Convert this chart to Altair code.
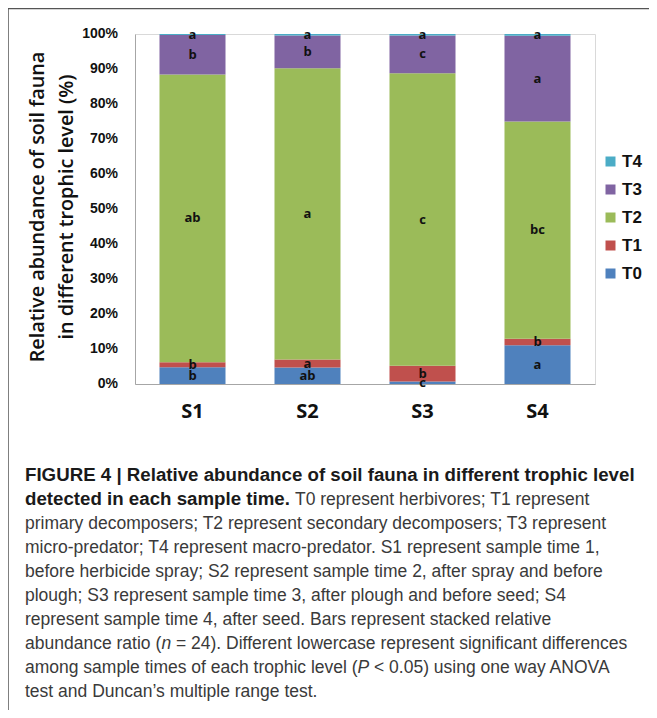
import altair as alt
import pandas as pd

# ---------------- data ----------------
samples = ["S1", "S2", "S3", "S4"]
levels = ["T0", "T1", "T2", "T3", "T4"]
t0 = [4.8, 4.7, 0.7, 11.1]
t1 = [1.4, 2.3, 4.5, 1.8]
t2 = [82.2, 83.2, 83.6, 62.1]
t3 = [11.3, 9.4, 10.8, 24.5]
t4 = [0.3, 0.4, 0.4, 0.5]
lab_t0 = ["b", "ab", "c", "a"]
lab_t1 = ["b", "a", "b", "b"]
lab_t2 = ["ab", "a", "c", "bc"]
lab_t3 = ["b", "b", "c", "a"]
lab_t4 = ["a", "a", "a", "a"]
colors = ["#4F81BD", "#C0504D", "#9BBB59", "#8064A2", "#4BACC6"]
y_ticks = list(range(0, 101, 10))
y_tick_labels = ["0%", "10%", "20%", "30%", "40%", "50%", "60%", "70%", "80%", "90%", "100%"]
y_title = ["Relative abundance of soil fauna", "in different trophic level (%)"]

cap_bold_1 = "FIGURE 4 | Relative abundance of soil fauna in different trophic level"
cap_bold_2 = "detected in each sample time."
cap_2_rest = "T0 represent herbivores; T1 represent"
cap_lines = [
    "primary decomposers; T2 represent secondary decomposers; T3 represent",
    "micro-predator; T4 represent macro-predator. S1 represent sample time 1,",
    "before herbicide spray; S2 represent sample time 2, after spray and before",
    "plough; S3 represent sample time 3, after plough and before seed; S4",
    "represent sample time 4, after seed. Bars represent stacked relative",
]
cap_8 = ["abundance ratio (", "n", "= 24). Different lowercase represent significant differences"]
cap_9 = ["among sample times of each trophic level (", "P", "< 0.05) using one way ANOVA"]
cap_10 = "test and Duncan\u2019s multiple range test."

rows = []
for i, (lvl, vals, labs) in enumerate(zip(levels, [t0, t1, t2, t3, t4],
                                          [lab_t0, lab_t1, lab_t2, lab_t3, lab_t4])):
    for s, v, lab in zip(samples, vals, labs):
        rows.append({"S": s, "T": lvl, "ord": i, "value": v, "lab": lab})
df = pd.DataFrame(rows)
ticks_df = pd.DataFrame({"v": y_ticks, "lab": y_tick_labels})

# ---------------- layout ----------------
W, H = 460, 350
OX, OY = 135, 34          # plot origin on the page
PAD = {"left": OX - 8, "top": OY - 8, "right": 54, "bottom": 326}

x_scale = alt.Scale(paddingInner=0.426, paddingOuter=0.213)
y_scale = alt.Scale(domain=[0, 100], nice=False)
x_axis = alt.Axis(title=None, labelAngle=0, ticks=False, domainColor="#a6a6a6",
                  labelFont="Open Sans", labelFontWeight="bold", labelFontSize=20,
                  labelColor="#111", labelPadding=17)
y_axis = alt.Axis(title=None, labels=False, grid=False, ticks=False, domainColor="#a6a6a6")

base = alt.Chart(df).transform_stack(
    stack="value", groupby=["S"], as_=["y0", "y1"],
    sort=[alt.SortField("ord", order="ascending")]
).transform_calculate(mid="(datum.y0 + datum.y1) / 2")

bars = base.mark_bar().encode(
    x=alt.X("S:N", sort=samples, scale=x_scale, axis=x_axis),
    y=alt.Y("y0:Q", scale=y_scale, axis=y_axis),
    y2="y1:Q",
    color=alt.Color("T:N", scale=alt.Scale(domain=levels[::-1], range=colors[::-1]),
                    legend=alt.Legend(title=None, orient="none", legendX=467, legendY=119,
                                      symbolType="square", symbolSize=100,
                                      symbolStrokeWidth=0, labelFont="Liberation Sans",
                                      labelFontWeight="bold", labelFontSize=17,
                                      labelColor="#111", rowPadding=10, labelOffset=3)),
)

letters = base.mark_text(font="Open Sans", fontWeight="bold", fontSize=13,
                         color="#111", baseline="middle").encode(
    x=alt.X("S:N", sort=samples, scale=x_scale, axis=x_axis),
    y=alt.Y("mid:Q", scale=y_scale, axis=y_axis),
    text="lab:N")

# y tick labels drawn through the same y scale
ylabels = alt.Chart(ticks_df).mark_text(align="right", baseline="middle",
                                        font="Liberation Sans", fontWeight="bold",
                                        fontSize=14, color="#111").encode(
    x=alt.value(-17),
    y=alt.Y("v:Q", scale=y_scale, axis=y_axis),
    text="lab:N")


def txt(s, xabs, yabs, **kw):
    return alt.Chart(pd.DataFrame({"t": [s]})).mark_text(**kw).encode(
        x=alt.value(xabs - OX), y=alt.value(yabs - OY), text="t:N")


layers = [bars, letters, ylabels]

# y-axis title (two rotated lines)
ytk = dict(angle=270, align="center", baseline="middle", font="Open Sans",
           fontSize=19.8, fontWeight=600, color="#111")
layers.append(txt(y_title[0], 38, 207, **ytk))
layers.append(txt(y_title[1], 67, 207, **ytk))

# frame lines
one = pd.DataFrame({"a": [0]})
layers.append(alt.Chart(one).mark_rule(color="#555", strokeWidth=1.5).encode(
    x=alt.value(8 - OX), x2=alt.value(649 - OX), y=alt.value(8.5 - OY)))
layers.append(alt.Chart(one).mark_rule(color="#555", strokeWidth=1.5).encode(
    x=alt.value(8 - OX), y=alt.value(8 - OY), y2=alt.value(710 - OY)))

# caption
CF = "Liberation Sans"
CS = 17.5
BS = 18.7
X0 = 25
Y0 = 481
LH = 24
bold = dict(align="left", baseline="alphabetic", font=CF, fontSize=BS, fontWeight="bold", color="#1a1a1a")
norm = dict(align="left", baseline="alphabetic", font=CF, fontSize=CS, color="#3a3a3a")
ital = dict(norm, fontStyle="italic")

layers.append(txt(cap_bold_1, X0, Y0, **bold))
layers.append(txt(cap_bold_2, X0, Y0 + LH, **bold))
layers.append(txt(cap_2_rest, 295, Y0 + LH, **norm))
for k, line in enumerate(cap_lines):
    layers.append(txt(line, X0, Y0 + LH * (k + 2), **norm))
layers.append(txt(cap_8[0], X0, Y0 + LH * 7, **norm))
layers.append(txt(cap_8[1], 161.5, Y0 + LH * 7, **ital))
layers.append(txt(cap_8[2], 176, Y0 + LH * 7, **norm))
layers.append(txt(cap_9[0], X0, Y0 + LH * 8, **norm))
layers.append(txt(cap_9[1], 357.5, Y0 + LH * 8, **ital))
layers.append(txt(cap_9[2], 374, Y0 + LH * 8, **norm))
layers.append(txt(cap_10, X0, Y0 + LH * 9, **norm))

chart = alt.layer(*layers).properties(
    width=W, height=H,
    autosize=alt.AutoSizeParams(type="none"),
    padding=PAD,
    background="white",
).configure_view(stroke="#d9d9d9")

chart.save("out.html", embed_options={"renderer": "svg", "actions": False})
